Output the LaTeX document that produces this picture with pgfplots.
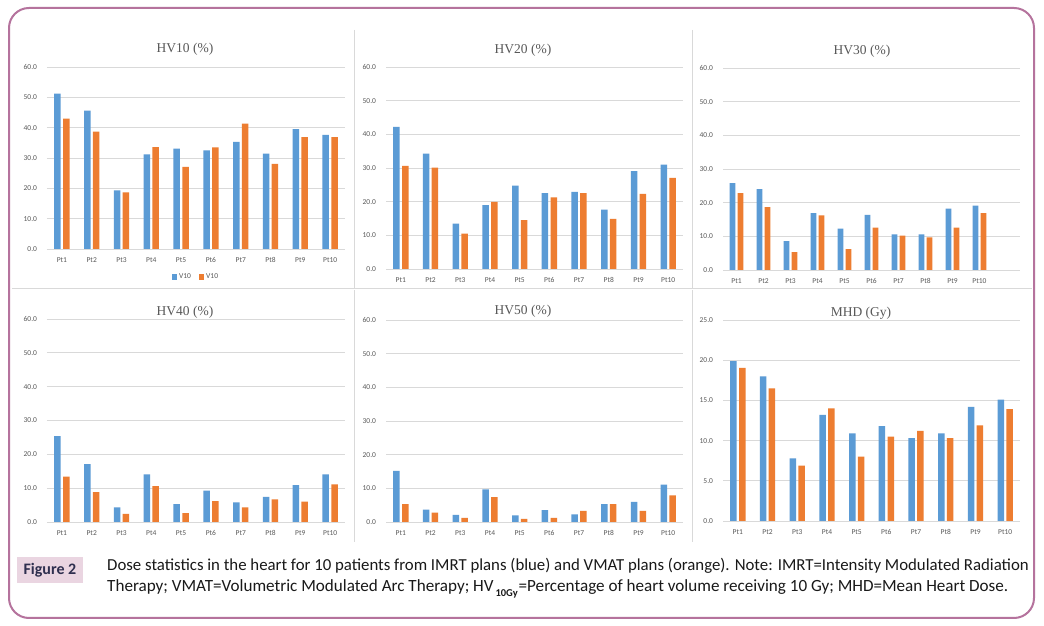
\documentclass[border=0pt]{standalone}
\usepackage{pgfplots}
\pgfplotsset{compat=1.18}
\usepackage{pgfplotstable}
\usepackage{fontspec}
\setmainfont{Carlito}
\newfontfamily\titlefont{Liberation Serif}
\definecolor{ibl}{HTML}{5B9BD5}
\definecolor{ior}{HTML}{ED7D31}
\definecolor{gridc}{HTML}{D9D9D9}
\definecolor{tickc}{HTML}{595959}
\definecolor{framec}{HTML}{B5739D}
\definecolor{figbox}{HTML}{EAD5E1}
\definecolor{figtext}{HTML}{2F2F4F}

\pgfplotstableread{
x b o
1 51.2 43.0
2 45.6 38.7
3 19.3 18.7
4 31.2 33.6
5 33.1 27.1
6 32.5 33.5
7 35.3 41.3
8 31.4 28.1
9 39.5 36.9
10 37.6 36.9
}\hvten
\pgfplotstableread{
x b o
1 42.2 30.6
2 34.3 30.1
3 13.5 10.5
4 19.0 19.9
5 24.8 14.5
6 22.5 21.3
7 22.9 22.5
8 17.6 14.9
9 29.1 22.3
10 31.0 27.1
}\hvtwenty
\pgfplotstableread{
x b o
1 25.8 22.8
2 24.0 18.7
3 8.6 5.3
4 16.9 16.2
5 12.3 6.2
6 16.4 12.6
7 10.6 10.2
8 10.6 9.7
9 18.2 12.6
10 19.1 16.9
}\hvthirty
\pgfplotstableread{
x b o
1 25.4 13.4
2 17.1 8.8
3 4.3 2.4
4 14.1 10.6
5 5.3 2.6
6 9.3 6.2
7 5.8 4.3
8 7.4 6.7
9 10.9 6.0
10 14.1 11.1
}\hvforty
\pgfplotstableread{
x b o
1 15.2 5.3
2 3.7 2.8
3 2.1 1.2
4 9.7 7.4
5 2.0 0.9
6 3.5 1.2
7 2.3 3.3
8 5.3 5.3
9 6.0 3.3
10 11.1 7.9
}\hvfifty
\pgfplotstableread{
x b o
1 19.9 19.05
2 18.0 16.5
3 7.8 6.9
4 13.2 14.0
5 10.9 8.0
6 11.8 10.5
7 10.3 11.2
8 10.9 10.3
9 14.2 11.9
10 15.1 13.9
}\mhd

\pgfplotsset{
  panel/.style={
    scale only axis, width=297pt, anchor=south west,
    xmin=0.5, xmax=10.5, ymin=0,
    xtick={1,...,10}, xticklabels={Pt1,Pt2,Pt3,Pt4,Pt5,Pt6,Pt7,Pt8,Pt9,Pt10},
    axis line style={draw=none},
    ymajorgrids, grid style={draw=gridc, line width=0.8pt},
    major tick length=0pt,
    tick label style={font=\fontsize{7.5}{9}\selectfont, text=tickc},
    /pgf/number format/assume math mode=true,
    y tick label style={/pgf/number format/fixed, /pgf/number format/fixed zerofill, /pgf/number format/precision=1, xshift=-6.5pt},
    x tick label style={yshift=-5pt},
    clip=false,
  },
  bb/.style={ybar, bar width=6.5pt, bar shift=-4.4pt, fill=ibl, draw=none},
  oo/.style={ybar, bar width=6.5pt, bar shift=4.4pt, fill=ior, draw=none},
}

\begin{document}
\begin{tikzpicture}[x=1pt,y=1pt]
\path[use as bounding box] (0,0) rectangle (1044,626);
\fill[white] (0,0) rectangle (1044,626);
\draw[framec, line width=2pt, rounded corners=20pt] (9,8) rectangle (1034,618);
% panel separators
\draw[gridc, line width=0.8pt] (354,596) -- (354,338) (354,336) -- (354,84);
\draw[gridc, line width=0.8pt] (692,596) -- (692,338) (692,336) -- (692,84);
\draw[gridc, line width=0.8pt] (12,338) -- (1032,338);

% HV10
\begin{axis}[panel, at={(47pt,377pt)}, width=298pt, height=182pt, ymax=60, ytick={0,10,...,60},
  legend style={at={(0.5,-0.154)}, anchor=center, legend columns=2, draw=none, fill=none,
    font=\fontsize{7.5}{9}\selectfont\color{tickc}, inner sep=0pt,
    /tikz/every even column/.append style={column sep=6pt}},
  legend image code/.code={\fill[#1] (0pt,-2.6pt) rectangle (5.2pt,2.6pt);}]
\addplot[bb] table[x=x,y=b]{\hvten};
\addplot[oo] table[x=x,y=o]{\hvten};
\legend{V10,V10}
\end{axis}

% HV20
\begin{axis}[panel, at={(386pt,357pt)}, height=202pt, ymax=60, ytick={0,10,...,60}]
\addplot[bb] table[x=x,y=b]{\hvtwenty};
\addplot[oo] table[x=x,y=o]{\hvtwenty};
\end{axis}

% HV30
\begin{axis}[panel, at={(723pt,356pt)}, height=202pt, ymax=60, ytick={0,10,...,60}, xmax=11.5]
\addplot[bb, bar width=5.8pt, bar shift=-4pt] table[x=x,y=b]{\hvthirty};
\addplot[oo, bar width=5.8pt, bar shift=4pt] table[x=x,y=o]{\hvthirty};
\end{axis}

% HV40
\begin{axis}[panel, at={(47pt,104pt)}, width=298pt, height=203pt, ymax=60, ytick={0,10,...,60}]
\addplot[bb] table[x=x,y=b]{\hvforty};
\addplot[oo] table[x=x,y=o]{\hvforty};
\end{axis}

% HV50
\begin{axis}[panel, at={(386pt,104pt)}, height=202pt, ymax=60, ytick={0,10,...,60}]
\addplot[bb] table[x=x,y=b]{\hvfifty};
\addplot[oo] table[x=x,y=o]{\hvfifty};
\end{axis}

% MHD
\begin{axis}[panel, at={(723pt,105pt)}, height=201pt, ymax=25, ytick={0,5,...,25}]
\addplot[bb] table[x=x,y=b]{\mhd};
\addplot[oo] table[x=x,y=o]{\mhd};
\end{axis}

% titles
\begin{scope}[every node/.style={font=\titlefont\fontsize{13.5}{15}\selectfont, text=tickc, inner sep=0pt}]
\node at (185,577) {HV10 (\%)};
\node at (523,576) {HV20 (\%)};
\node at (862,575) {HV30 (\%)};
\node at (185,314) {HV40 (\%)};
\node at (523,315) {HV50 (\%)};
\node at (861,313) {MHD (Gy)};
\end{scope}

% caption
\node[fill=figbox, minimum width=66pt, minimum height=26pt, inner sep=0pt, text=figtext,
  font=\fontsize{16}{17}\selectfont\bfseries] at (50,56) {Figure 2};
\node[anchor=west, inner sep=0pt, font=\fontsize{16.8}{18}\selectfont, text=black!90] at (107,60)
  {Dose statistics in the heart for 10 patients from IMRT plans (blue) and VMAT plans (orange). Note: IMRT=Intensity Modulated Radiation};
\node[anchor=west, inner sep=0pt, font=\fontsize{17.1}{18}\selectfont, text=black!90] at (107,37)
  {Therapy; VMAT=Volumetric Modulated Arc Therapy; HV\hspace{2pt}\raisebox{-4.5pt}{\fontsize{10.5}{10}\selectfont\bfseries 10Gy}\hspace{1pt}=Percentage of heart volume receiving 10 Gy; MHD=Mean Heart Dose.};
\end{tikzpicture}
\end{document}
